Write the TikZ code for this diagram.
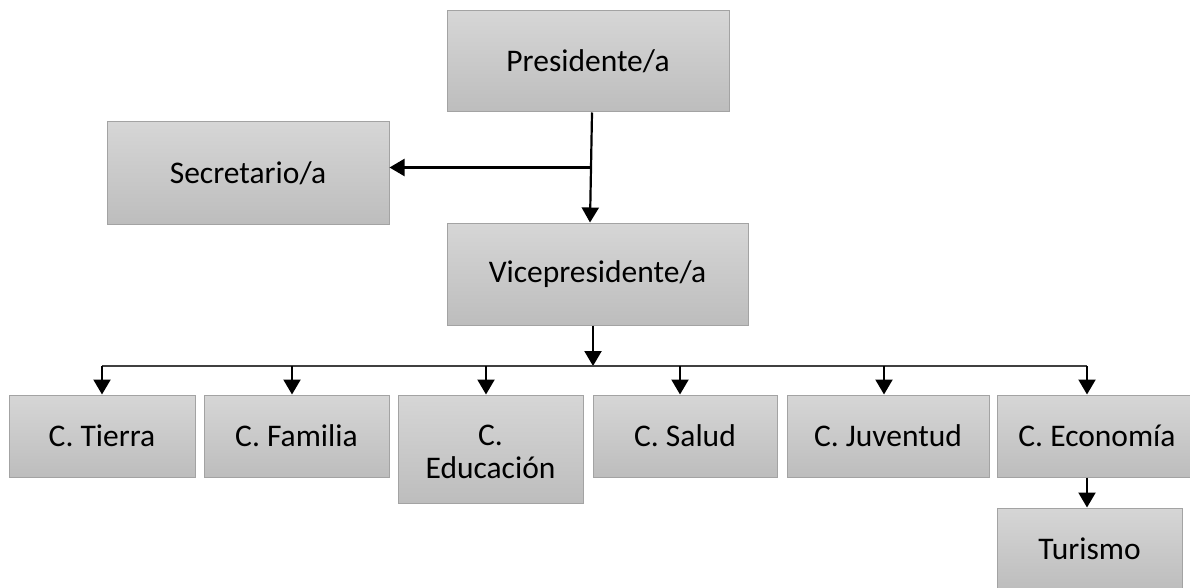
\documentclass[tikz,border=0pt]{standalone}
\usepackage{fontspec}
\setmainfont{Carlito}
\usetikzlibrary{arrows.meta,calc}
\definecolor{boxtop}{HTML}{D6D6D6}
\definecolor{boxbot}{HTML}{BDBDBD}
\definecolor{boxline}{HTML}{A3A3A3}
\definecolor{barline}{HTML}{404040}
\tikzset{
  orgbox/.style={rectangle, draw=boxline, line width=1pt, top color=boxtop, bottom color=boxbot,
    inner sep=2pt, align=center, font=\fontsize{31.5}{33}\selectfont, text=black},
  orgtext/.style={inner sep=0pt, align=center, font=\fontsize{31.5}{32.5}\selectfont, text=black},
  arr/.style={line width=2.2pt, draw=black, -{Triangle[width=17pt,length=15pt]}},
  barstyle/.style={line width=1.6pt, draw=barline}
}
\begin{document}
\begin{tikzpicture}[x=1pt,y=-1pt]
\useasboundingbox (0,0) rectangle (1190,588);
\clip (0,0) rectangle (1190,588);
\fill[white] (0,0) rectangle (1190,588);
% top nodes
\node[orgbox, minimum width=282pt, minimum height=101pt] (pres) at (588,61.5) {Presidente/a};
\node[orgbox, minimum width=282pt, minimum height=102pt] (sec) at (248,173) {Secretario/a};
\node[orgbox, minimum width=301pt, minimum height=102pt] (vice) at (597.5,274) {Vicepresidente/a};
% committees
\node[orgbox, minimum width=186pt, minimum height=82pt] (tierra) at (102,436) {C. Tierra};
\node[orgbox, minimum width=185pt, minimum height=82pt] (familia) at (296.5,436) {C. Familia};
\node[orgbox, minimum width=185pt, minimum height=108pt] (educ) at (490.5,449) {};
\node[orgtext] (eductext) at (490.5,452) {C.\\Educación};
\node[orgbox, minimum width=184pt, minimum height=82pt] (salud) at (685,436) {C. Salud};
\node[orgbox, minimum width=202pt, minimum height=82pt] (juv) at (888,436) {C. Juventud};
\node[orgbox, minimum width=200pt, minimum height=82pt] (econ) at (1097,436) {C. Economía};
\node[orgbox, minimum width=185pt, minimum height=82pt] (tur) at (1089.5,549) {Turismo};
% connectors
\coordinate (pfoot) at ([xshift=4pt]pres.south);
\coordinate (vtop) at ([xshift=-7.5pt]vice.north);
\coordinate (junc) at ($(pfoot)!0.5!(vtop)$);
\draw[arr] (pfoot) -- (vtop);
\draw[arr] (sec.east |- junc) ++(201pt,0) coordinate (jl) (jl) -- (sec.east |- jl);
\coordinate (barmid) at ([xshift=-4.5pt]vice.south |- 0,366);
\draw[arr] ([xshift=-4.5pt]vice.south) -- (barmid);
\coordinate (barl) at ([xshift=0pt]tierra.north |- barmid);
\coordinate (barr) at ([xshift=-10pt]econ.north |- barmid);
\draw[barstyle] (barl) -- (barr);
\draw[arr] (barl) -- (tierra.north);
\draw[arr] ([xshift=-4.5pt]familia.north |- barmid) -- ([xshift=-4.5pt]familia.north);
\draw[arr] ([xshift=-4.5pt]educ.north |- barmid) -- ([xshift=-4.5pt]educ.north);
\draw[arr] ([xshift=-5pt]salud.north |- barmid) -- ([xshift=-5pt]salud.north);
\draw[arr] ([xshift=-4pt]juv.north |- barmid) -- ([xshift=-4pt]juv.north);
\draw[arr] (barr) -- ([xshift=-10pt]econ.north);
\draw[arr] ([xshift=-10pt]econ.south) -- ([xshift=-10pt]econ.south |- tur.north);
\end{tikzpicture}
\end{document}
